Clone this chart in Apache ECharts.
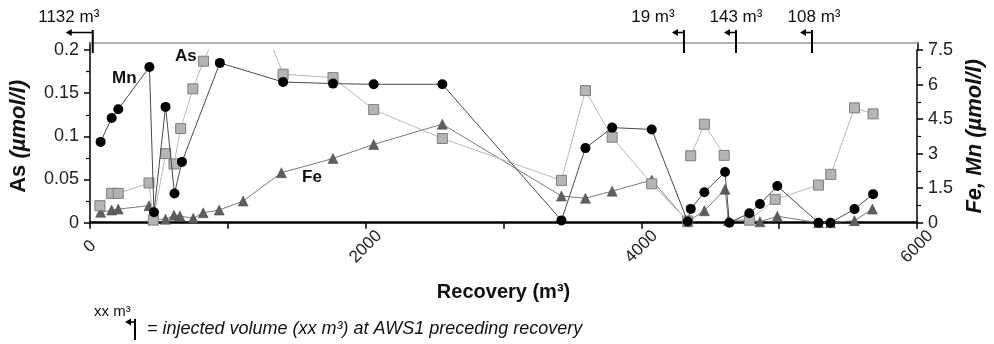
<!DOCTYPE html>
<html><head><meta charset="utf-8">
<script src="https://cdn.jsdelivr.net/npm/echarts@6/dist/echarts.min.js"></script>
<style>html,body{margin:0;padding:0;background:#fff}#c{width:994px;height:344px}</style>
</head><body><div id="c"></div>
<script>
// ---- data ----
const mnRecovery = [77,157,205,431,464,548,613,667,942,1401,1763,2058,2556,3420,3594,3788,4075,4336,4358,4457,4607,4638,4783,4860,4986,5285,5372,5546,5681];
const mnValues   = [3.51,4.55,4.93,6.76,0.45,5.03,1.27,2.64,6.94,6.11,6.04,6.01,6.01,0.10,3.24,4.13,4.05,0.05,0.60,1.32,2.20,0.00,0.41,0.81,1.59,0.00,0.00,0.59,1.24];

const feRecovery = [77,157,205,428,459,548,609,652,749,821,937,1111,1389,1763,2058,2556,3420,3594,3788,4075,4336,4457,4607,4631,4783,4860,4986,5285,5372,5546,5676];
const feValues   = [0.45,0.55,0.59,0.74,0.15,0.15,0.32,0.29,0.19,0.43,0.55,0.94,2.17,2.79,3.40,4.28,1.16,1.06,1.37,1.85,0.04,0.52,1.45,0.10,0.12,0.04,0.28,0.00,0.00,0.09,0.59];

const asRecovery = [72,157,205,428,459,549,609,658,746,824,1111,1401,1763,2058,2556,3420,3594,3788,4075,4336,4347,4358,4457,4601,4700,4783,4971,5285,5374,5546,5681];
const asValues   = [0.0197,0.034,0.034,0.046,0.003,0.080,0.068,0.109,0.155,0.187,0.29,0.172,0.168,0.131,0.0975,0.049,0.153,0.099,0.045,0.002,null,0.0775,0.114,0.078,null,0.003,0.027,0.0436,0.056,0.133,0.126];

const injectionRecovery = [20,4304,4681,5232];
const injectionVolume   = [1132,19,143,108];

const xTickLabels = ['0','2000','4000','6000'];
const asTicks = ['0','0.05','0.1','0.15','0.2'];
const feMnTicks = ['0','1.5','3','4.5','6','7.5'];

// ---- chart ----
const FONT = 'Liberation Sans, Arial, Helvetica, sans-serif';
function pairs(xs, ys){ return xs.map((x,i)=>[x, ys[i]===null ? '-' : ys[i]]); }
const labelDx = [-24,-31,0,2];

const chart = echarts.init(document.getElementById('c'), null, {renderer:'canvas'});
const axisBase = {
  axisLine:{show:true, lineStyle:{color:'#000', width:1.5}},
  axisTick:{show:true, inside:false, length:6, lineStyle:{color:'#000', width:1.5}},
  minorTick:{show:true, splitNumber:2, length:4, lineStyle:{color:'#000', width:1.2}},
  splitLine:{show:false},
  axisLabel:{color:'#222', fontSize:18, fontFamily:FONT, margin:11}
};

chart.setOption({
  animation:false,
  backgroundColor:'#fff',
  grid:[
    {left:90, right:76, top:50, height:172.7, containLabel:false},
    {left:90, right:76, top:42.5, height:7.5, containLabel:false}
  ],
  xAxis:[
    {gridIndex:0, type:'value', min:0, max:6000, interval:1000,
     axisLine:{show:true, onZero:false, lineStyle:{color:'#000', width:2.5}},
     axisTick:{show:true, length:6, lineStyle:{color:'#000', width:1.5}},
     splitLine:{show:false},
     axisLabel:{color:'#222', fontSize:17, fontFamily:FONT, rotate:45, align:'center', verticalAlign:'middle', margin:24,
       formatter:function(v){ const s=String(v); return xTickLabels.indexOf(s)>=0 ? s : ''; }},
     name:'Recovery (m³)', nameLocation:'middle', nameGap:60,
     nameTextStyle:{color:'#111', fontSize:20, fontWeight:'bold', fontFamily:FONT}},
    {gridIndex:1, type:'value', min:0, max:6000, position:'top',
     axisLine:{show:true, onZero:false, lineStyle:{color:'#999', width:1.5}},
     axisTick:{show:false}, axisLabel:{show:false}, splitLine:{show:false}}
  ],
  yAxis:[
    Object.assign({}, axisBase, {gridIndex:0, type:'value', min:0, max:0.2, interval:0.05, position:'left',
      axisLabel:Object.assign({}, axisBase.axisLabel, {formatter:function(v){ const s=String(+v.toFixed(3)); return asTicks.indexOf(s)>=0?s:''; }}),
      name:'{a|As}{b| (µmol/l)}', nameLocation:'middle', nameGap:60, nameRotate:90,
      nameTextStyle:{rich:{a:{fontSize:22, fontWeight:'bold', fontFamily:FONT, color:'#111'}, b:{fontSize:22, fontWeight:'bold', fontStyle:'italic', fontFamily:FONT, color:'#111'}}}}),
    Object.assign({}, axisBase, {gridIndex:0, type:'value', min:0, max:7.5, interval:1.5, position:'right',
      axisLabel:Object.assign({}, axisBase.axisLabel, {formatter:function(v){ const s=String(+v.toFixed(2)); return feMnTicks.indexOf(s)>=0?s:''; }}),
      name:'Fe, Mn (µmol/l)', nameLocation:'middle', nameGap:46, nameRotate:90,
      nameTextStyle:{fontSize:22, fontWeight:'bold', fontStyle:'italic', fontFamily:FONT, color:'#111'}}),
    {gridIndex:1, type:'value', min:0, max:1, position:'left',
     axisLine:{show:true, lineStyle:{color:'#000', width:1.5}}, axisTick:{show:false}, axisLabel:{show:false}, splitLine:{show:false}},
    {gridIndex:1, type:'value', min:0, max:1, position:'right',
     axisLine:{show:true, lineStyle:{color:'#000', width:1.5}}, axisTick:{show:false}, axisLabel:{show:false}, splitLine:{show:false}}
  ],
  series:[
    {name:'Fe', type:'line', xAxisIndex:0, yAxisIndex:1, data:pairs(feRecovery, feValues),
     symbol:'triangle', symbolSize:10, clip:true, z:2,
     lineStyle:{color:'#7a7a7a', width:1}, itemStyle:{color:'#5e5e5e', borderColor:'#444', borderWidth:0.5}},
    {name:'As', type:'line', xAxisIndex:0, yAxisIndex:0, data:pairs(asRecovery, asValues),
     symbol:'rect', symbolSize:10, clip:true, connectNulls:false, z:3,
     lineStyle:{color:'#b8b8b8', width:1}, itemStyle:{color:'#b4b4b4', borderColor:'#7d7d7d', borderWidth:1}},
    {name:'Mn', type:'line', xAxisIndex:0, yAxisIndex:1, data:pairs(mnRecovery, mnValues),
     symbol:'circle', symbolSize:10, clip:true, z:4,
     lineStyle:{color:'#4a4a4a', width:1}, itemStyle:{color:'#000'}},
    {name:'injection', type:'custom', xAxisIndex:1, yAxisIndex:2, clip:false, z:5,
     data:injectionRecovery.map((x,i)=>[x, injectionVolume[i]]),
     renderItem:function(params, api){
       const x = api.coord([api.value(0), 1])[0];
       const top = params.coordSys.y;
       const i = params.dataIndex;
       const len = i===0 ? 27 : 12;
       const ay = top-10;
       return {type:'group', children:[
         {type:'line', shape:{x1:x,y1:top-12.5,x2:x,y2:top+10.5}, style:{stroke:'#000', lineWidth:2}},
         {type:'line', shape:{x1:x,y1:ay,x2:x-len+5,y2:ay}, style:{stroke:'#000', lineWidth:1.5}},
         {type:'polygon', shape:{points:[[x-len,ay],[x-len+6,ay-3.5],[x-len+6,ay+3.5]]}, style:{fill:'#000'}},
         {type:'text', x:x+labelDx[i], y:top-25, style:{text:api.value(1)+' m³', font:'17px '+FONT, fill:'#111', align:'center', verticalAlign:'middle'}}
       ]};
     }}
  ],
  graphic:[
    {type:'text', left:112, top:70, style:{text:'Mn', font:'bold 17px '+FONT, fill:'#111'}},
    {type:'text', left:175, top:48, style:{text:'As', font:'bold 17px '+FONT, fill:'#111'}},
    {type:'text', left:302, top:169, style:{text:'Fe', font:'bold 17px '+FONT, fill:'#111'}},
    {type:'text', left:94, top:304, style:{text:'xx m³', font:'15px '+FONT, fill:'#111'}},
    {type:'line', shape:{x1:135,y1:319,x2:135,y2:340}, style:{stroke:'#000', lineWidth:2}},
    {type:'line', shape:{x1:135,y1:322,x2:130,y2:322}, style:{stroke:'#000', lineWidth:1.5}},
    {type:'polygon', shape:{points:[[125,322],[131,318.5],[131,325.5]]}, style:{fill:'#000'}},
    {type:'text', left:147, top:320, style:{text:'= injected volume (xx m³) at AWS1 preceding recovery', font:'italic 18px '+FONT, fill:'#111'}}
  ]
});
</script></body></html>
